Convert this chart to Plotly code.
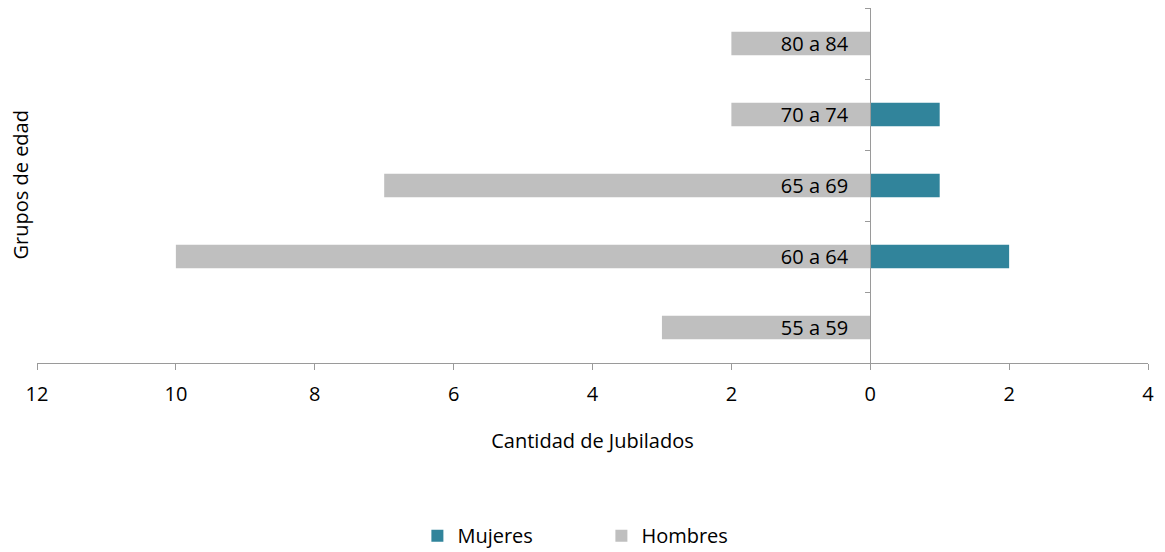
import plotly.graph_objects as go

categorias = ["55 a 59", "60 a 64", "65 a 69", "70 a 74", "80 a 84"]
hombres = [3, 10, 7, 2, 2]
mujeres = [0, 2, 1, 1, 0]
x_ticks = [-12, -10, -8, -6, -4, -2, 0, 2, 4]
x_ticktext = ["12", "10", "8", "6", "4", "2", "0", "2", "4"]

FONT = "Open Sans"
FS = 20
AXIS_COLOR = "#9A9A9A"

fig = go.Figure()
fig.add_trace(go.Bar(
    y=categorias, x=mujeres, name="Mujeres", orientation="h",
    marker=dict(color="#31849B", line=dict(width=0)), width=0.33,
))
fig.add_trace(go.Bar(
    y=categorias, x=[-v for v in hombres], name="Hombres", orientation="h",
    marker=dict(color="#BFBFBF", line=dict(width=0)), width=0.33,
))

fig.update_layout(
    width=1157, height=544,
    margin=dict(l=29, r=17, t=0, b=189),
    barmode="relative",
    plot_bgcolor="white", paper_bgcolor="white",
    font=dict(family=FONT, size=FS, color="#000000"),
    showlegend=True,
    legend=dict(
        orientation="h", x=0.508, xanchor="center",
        yref="container", y=0.03, yanchor="middle",
        traceorder="normal", entrywidth=139, entrywidthmode="pixels",
        itemwidth=30,
        font=dict(family=FONT, size=FS), itemsizing="constant",
    ),
    xaxis=dict(
        range=[-12, 4], tickvals=x_ticks, ticktext=x_ticktext,
        showgrid=False, zeroline=False, showline=True, linecolor=AXIS_COLOR,
        linewidth=1.3, ticks="outside", ticklen=6, tickcolor=AXIS_COLOR,
        ticklabelstandoff=7,
        tickfont=dict(family=FONT, size=FS),
        title=dict(text="Cantidad de Jubilados", standoff=27,
                   font=dict(family=FONT, size=FS)),
    ),
    yaxis=dict(
        anchor="free", position=0.75, side="left",
        showgrid=False, zeroline=False, showline=True, linecolor=AXIS_COLOR,
        linewidth=1.3, ticks="outside", ticklen=5, tickcolor=AXIS_COLOR,
        tickson="boundaries", ticklabelstandoff=18,
        tickfont=dict(family=FONT, size=FS),
        range=[-0.5, 4.5],
    ),
    annotations=[dict(
        text="Grupos de edad", textangle=-90, xref="paper", yref="paper",
        x=-0.0153, y=0.5, xanchor="center", yanchor="middle", showarrow=False,
        font=dict(family=FONT, size=FS),
    )],
)

fig.write_html("out.html")
